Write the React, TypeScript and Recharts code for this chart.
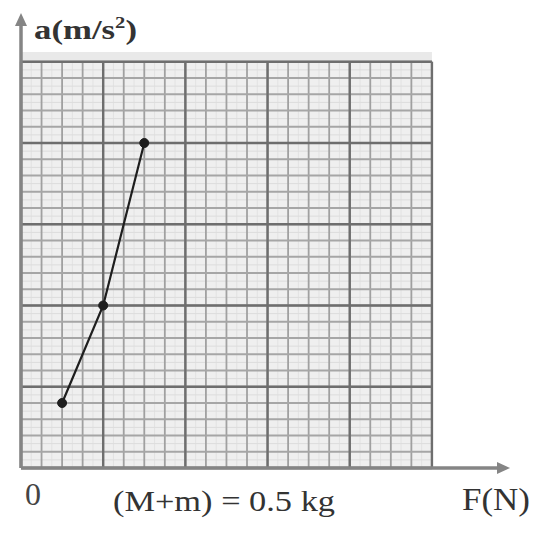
import React from 'react';
import { ComposedChart, Line, XAxis, YAxis, ReferenceLine, ReferenceArea, ReferenceDot } from 'recharts';

// measured points (F in N, a in m/s^2)
const forces = [0.5, 1.0, 1.5];
const accels = [0.8, 2.0, 4.0];

const data = forces.map((F, i) => ({ F, a: accels[i] }));

// graph paper: 5 big squares each way
const gridMax = 5;
const xMax = 5.95;
const yMax = 5.6;
const majorLines = [0, 1, 2, 3, 4, 5];
const vMedium = Array.from({ length: 21 }, (_, i) => i * 0.25);
const hMedium = Array.from({ length: 26 }, (_, i) => i * 0.2);
const vFine = Array.from({ length: 20 }, (_, i) => i * 0.25 + 0.125);
const hFine = Array.from({ length: 25 }, (_, i) => i * 0.2 + 0.1);

const serif = '"Liberation Serif", "DejaVu Serif", serif';

const ArrowRight = (props: any) => {
  const { cx, cy } = props;
  return <path d={`M${cx},${cy} L${cx - 13},${cy - 6} L${cx - 13},${cy + 6} Z`} fill="#858585" />;
};

const ArrowUp = (props: any) => {
  const { cx, cy } = props;
  return <path d={`M${cx},${cy} L${cx - 6},${cy + 13} L${cx + 6},${cy + 13} Z`} fill="#858585" />;
};

const vLine = (v: number, stroke: string, w: number, key: string) => (
  <ReferenceLine key={key} segment={[{ x: v, y: 0 }, { x: v, y: gridMax }]} stroke={stroke} strokeWidth={w} ifOverflow="visible" />
);
const hLine = (v: number, stroke: string, w: number, key: string) => (
  <ReferenceLine key={key} segment={[{ x: 0, y: v }, { x: gridMax, y: v }]} stroke={stroke} strokeWidth={w} ifOverflow="visible" />
);

export default function App() {
  return (
    <ComposedChart width={541} height={528} data={data} margin={{ top: 5, right: 39, bottom: 68, left: 13 }}>
      <XAxis type="number" dataKey="F" domain={[0, xMax]} allowDataOverflow hide />
      <YAxis type="number" dataKey="a" domain={[0, yMax]} allowDataOverflow hide />
      <ReferenceArea x1={0} x2={gridMax} y1={gridMax} y2={gridMax + 0.12} fill="#e9e9e9" fillOpacity={1} stroke="none" ifOverflow="visible" />
      <ReferenceArea x1={0} x2={gridMax} y1={0} y2={gridMax} fill="#efefef" fillOpacity={1} stroke="none" ifOverflow="visible" />
      {vFine.map((v, i) => vLine(v, '#e2e2e2', 1, 'vf' + i))}
      {hFine.map((v, i) => hLine(v, '#dcdcdc', 1, 'hf' + i))}
      {vMedium.map((v, i) => vLine(v, '#a0a0a0', 1.8, 'vm' + i))}
      {hMedium.map((v, i) => hLine(v, '#a6a6a6', 1.8, 'hm' + i))}
      {majorLines.map((v, i) => vLine(v, '#6e6e6e', 2.4, 'vM' + i))}
      {majorLines.map((v, i) => hLine(v, '#6e6e6e', 2.4, 'hM' + i))}
      {/* axes */}
      <ReferenceLine segment={[{ x: 0, y: 0 }, { x: xMax - 0.1, y: 0 }]} stroke="#858585" strokeWidth={3.5} ifOverflow="visible" />
      <ReferenceLine segment={[{ x: 0, y: 0 }, { x: 0, y: yMax - 0.1 }]} stroke="#858585" strokeWidth={3.5} ifOverflow="visible" />
      <ReferenceDot x={xMax} y={0} r={0} shape={ArrowRight} ifOverflow="visible" />
      <ReferenceDot x={0} y={yMax} r={0} shape={ArrowUp} ifOverflow="visible" />
      <Line
        type="linear"
        dataKey="a"
        stroke="#1e1e1e"
        strokeWidth={2.2}
        dot={{ r: 4.5, fill: '#1e1e1e', stroke: '#1e1e1e', strokeWidth: 1 }}
        isAnimationActive={false}
      />
      <text x={26} y={31} fontFamily={serif} fontSize={27} fontWeight="bold" fill="#333" textLength={103} lengthAdjust="spacingAndGlyphs">
        a(m/s<tspan fontSize={16} dy={-11}>2</tspan><tspan dy={11}>)</tspan>
      </text>
      <text x={17} y={497} fontFamily={serif} fontSize={32} fill="#444">0</text>
      <text x={105} y={503} fontFamily={serif} fontSize={30} fill="#333" textLength={222} lengthAdjust="spacingAndGlyphs">
        (M+m) = 0.5 kg
      </text>
      <text x={454} y={502} fontFamily={serif} fontSize={32} fill="#333" textLength={68} lengthAdjust="spacingAndGlyphs">
        F(N)
      </text>
    </ComposedChart>
  );
}
